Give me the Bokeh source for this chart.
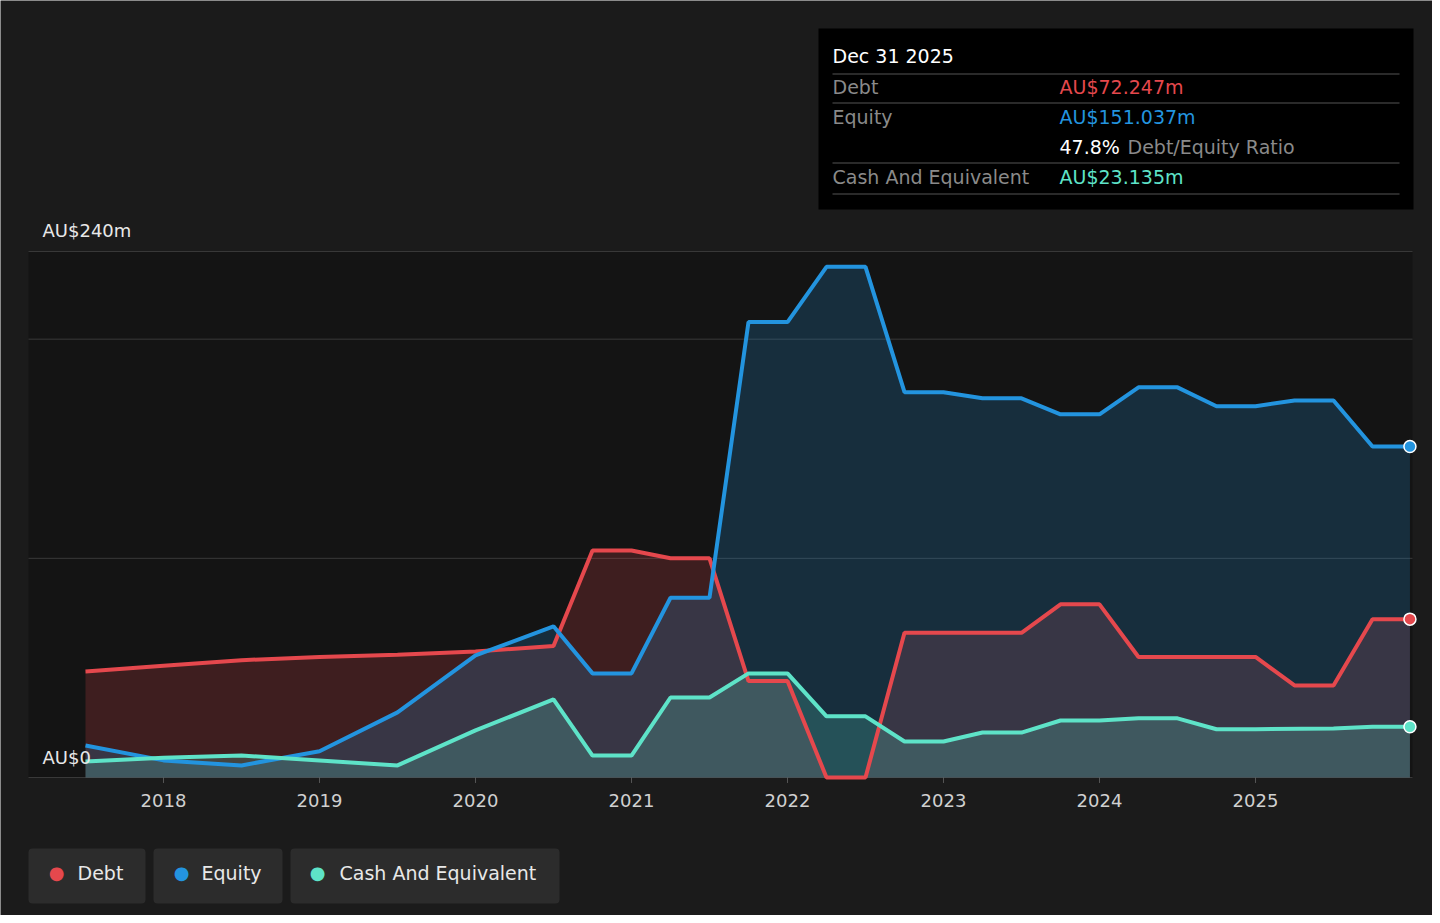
from bokeh.plotting import figure
from bokeh.models import Label, BoxAnnotation, Range1d
from bokeh.embed import file_html
from bokeh.resources import INLINE

debt_x = [2017.5, 2018, 2018.5, 2019, 2019.5, 2020, 2020.5, 2020.75, 2021, 2021.25, 2021.5, 2021.75, 2022, 2022.25, 2022.5, 2022.75, 2023.5, 2023.75, 2024, 2024.25, 2025, 2025.25, 2025.5, 2025.75, 2025.99]
debt_y = [48.4, 51, 53.5, 55, 56, 57.5, 60, 103.6, 103.6, 100, 100, 44, 44, 0, 0, 66, 66, 79, 79, 55, 55, 42, 42, 72.2, 72.247]
eq_x = [2017.5, 2018, 2018.5, 2019, 2019.5, 2020, 2020.5, 2020.75, 2021, 2021.25, 2021.5, 2021.75, 2022, 2022.25, 2022.5, 2022.75, 2023, 2023.25, 2023.5, 2023.75, 2024, 2024.25, 2024.5, 2024.75, 2025, 2025.25, 2025.5, 2025.75, 2025.99]
eq_y = [14.6, 7.8, 5.5, 12, 29.7, 55.7, 69, 47.5, 47.5, 82, 82, 207.8, 207.8, 233, 233, 175.8, 175.8, 173, 173, 165.7, 165.7, 178, 178, 169.4, 169.4, 172, 172, 151, 151.037]
cash_x = [2017.5, 2018, 2018.5, 2019, 2019.5, 2020, 2020.5, 2020.75, 2021, 2021.25, 2021.5, 2021.75, 2022, 2022.25, 2022.5, 2022.75, 2023, 2023.25, 2023.5, 2023.75, 2024, 2024.25, 2024.5, 2024.75, 2025, 2025.5, 2025.75, 2025.99]
cash_y = [7.3, 9, 10, 7.8, 5.5, 21.5, 35.6, 10, 10, 36.5, 36.5, 47.5, 47.5, 27.9, 27.9, 16.4, 16.4, 20.5, 20.5, 26, 26, 27, 27, 22, 22, 22.4, 23.1, 23.135]
years = [2018, 2019, 2020, 2021, 2022, 2023, 2024, 2025]
grid_vals = [0, 100, 200, 240]

RED, BLUE, TEAL = "#e5484d", "#2394df", "#5ee3c8"
FONT = "DejaVu Sans"
W, H = 1432, 915
XS = 2018 - 163 / 156.0
X0, X1 = XS + 28 / 156.0, XS + 1412 / 156.0

p = figure(width=W, height=H, output_backend="svg", toolbar_location=None,
           x_range=Range1d(XS, XS + W / 156.0),
           y_range=Range1d(-62.97, -62.97 + H / 2.1917),
           min_border=0)
p.axis.visible = False
p.grid.visible = False
p.background_fill_color = "#1b1b1b"
p.border_fill_color = "#1b1b1b"
p.outline_line_color = None

p.add_layout(BoxAnnotation(left=X0, right=X1, bottom=0, top=240, fill_color="#141414", fill_alpha=1,
                           line_color=None, level="underlay"))
p.segment(x0=[X0] * 4, x1=[X1] * 4, y0=grid_vals, y1=grid_vals, line_color="#3a3a3a", line_width=1)
p.segment(x0=years, x1=years, y0=[0] * 8, y1=[-2.5] * 8, line_color="#555555")

p.varea(x=debt_x, y1=0, y2=debt_y, fill_color=RED, fill_alpha=0.2)
p.varea(x=eq_x, y1=0, y2=eq_y, fill_color=BLUE, fill_alpha=0.2)
p.varea(x=cash_x, y1=0, y2=cash_y, fill_color=TEAL, fill_alpha=0.2)
p.line(debt_x, debt_y, line_color=RED, line_width=4)
p.line(eq_x, eq_y, line_color=BLUE, line_width=4)
p.line(cash_x, cash_y, line_color=TEAL, line_width=4)
for xs, ys, c in [(debt_x, debt_y, RED), (eq_x, eq_y, BLUE), (cash_x, cash_y, TEAL)]:
    p.scatter([xs[-1]], [ys[-1]], size=12, fill_color=c, line_color="white", line_width=1.5)

def lab(px, py, t, c, size="19px", **kw):
    p.add_layout(Label(x=px, y=H - py, x_units="screen", y_units="screen", text=t, text_color=c,
                       text_font=FONT, text_font_size=size, text_baseline="middle", **kw))

def box(l, r, t, b, c, **kw):
    p.add_layout(BoxAnnotation(left=l, right=r, top=H - t, bottom=H - b, left_units="screen",
                               right_units="screen", top_units="screen", bottom_units="screen",
                               fill_color=c, fill_alpha=1, line_color=None, **kw))

for yr in years:
    p.add_layout(Label(x=yr, y=H - 800, y_units="screen", text=str(yr), text_color="#d0d0d0",
                       text_font=FONT, text_font_size="18px", text_baseline="middle", text_align="center"))

lab(42, 230, "AU$240m", "#e8e8e8", "18px")
lab(42, 757, "AU$0", "#e8e8e8", "18px")

# tooltip
box(818, 1413, 28, 209, "#000000")
for yy in [73, 102, 162, 193]:
    box(832, 1399, yy, yy + 1, "#555555")
lab(832, 55, "Dec 31 2025", "#ffffff")
lab(832, 86, "Debt", "#8a8a8a")
lab(1059, 86, "AU$72.247m", RED)
lab(832, 116, "Equity", "#8a8a8a")
lab(1059, 116, "AU$151.037m", BLUE)
lab(1059, 146, "47.8%", "#ffffff")
lab(1127, 146, "Debt/Equity Ratio", "#8a8a8a")
lab(832, 176, "Cash And Equivalent", "#8a8a8a")
lab(1059, 176, "AU$23.135m", TEAL)

# legend
for l, r, dx, tx, t, c in [(28, 145, 56, 77, "Debt", RED), (153, 282, 181, 201, "Equity", BLUE),
                           (290, 559, 317, 339, "Cash And Equivalent", TEAL)]:
    box(l, r, 848, 903, "#2c2c2c", border_radius=4)
    lab(dx, 872, "●", c, "18px", text_align="center")
    lab(tx, 872, t, "#e8e8e8", "19px")

open("out.html", "w").write(file_html(p, INLINE))
